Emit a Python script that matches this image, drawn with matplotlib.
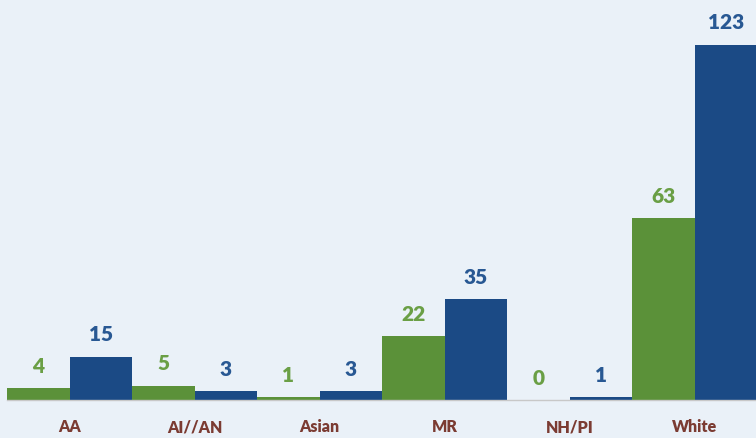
import numpy as np
import matplotlib.pyplot as plt

# donnees
categories = ["AA", "AI//AN", "Asian", "MR", "NH/PI", "White"]
serie_verte = [4, 5, 1, 22, 0, 63]
serie_bleue = [15, 3, 3, 35, 1, 123]

fond = "#eaf1f8"
vert = "#5b9139"
bleu = "#1b4a85"

fig = plt.figure(figsize=(7.56, 4.39), dpi=100, facecolor=fond)
ax = fig.add_axes([7/756, 38/439, 750/756, 401/439], facecolor=fond)

x = np.arange(len(categories))
w = 0.5
b1 = ax.bar(x - w/2, serie_verte, w, color=vert)
b2 = ax.bar(x + w/2, serie_bleue, w, color=bleu)

for rects, vals, col in ((b1, serie_verte, "#6a9f45"), (b2, serie_bleue, "#285893")):
    for r, v in zip(rects, vals):
        ax.text(r.get_x() + r.get_width()/2, v + 4.6, str(v), ha="center", va="bottom",
                fontsize=15, fontweight="heavy", color=col, family="Lato")

ax.set_xlim(-0.5, 5.5)
ax.set_ylim(0, 138.8)
ax.set_xticks(x)
ax.set_xticklabels(categories, fontsize=11.5, fontweight="heavy", color="#7b3b32", family="Lato")
ax.tick_params(axis="x", length=0, pad=13)
ax.set_yticks([])
for s in ["top", "right", "left"]:
    ax.spines[s].set_visible(False)
ax.spines["bottom"].set_color("#c8c8c8")
ax.spines["bottom"].set_linewidth(1)

plt.savefig("out.png", dpi=100, facecolor=fond)
